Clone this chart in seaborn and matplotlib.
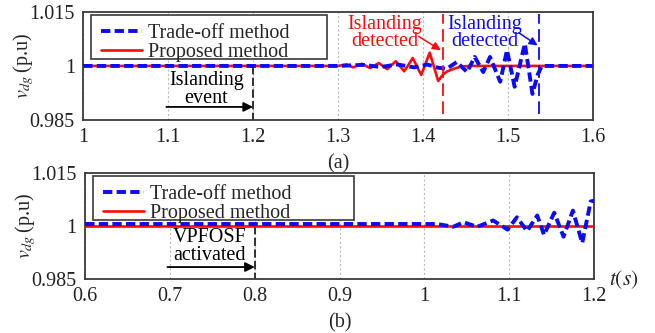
import numpy as np
import pandas as pd
import matplotlib
matplotlib.use("Agg")
import matplotlib.pyplot as plt
import seaborn as sns
from matplotlib.patches import Rectangle

# ---- (a) islanding test, t from 1.0 s to 1.6 s ----
t_prop_a = [1.000, 1.300, 1.310, 1.318, 1.328, 1.338, 1.348, 1.358, 1.368, 1.378,
            1.388, 1.398, 1.408, 1.418, 1.4235, 1.428, 1.436, 1.445, 1.455, 1.600]
v_prop_a = [1.0000, 1.0000, 1.0004, 0.9996, 1.0006, 0.9994, 1.0008, 0.9991, 1.0013, 0.9985,
            1.0022, 0.9975, 1.0037, 0.9958, 0.9976, 0.9984, 0.9992, 0.9998, 1.0000, 1.0000]

t_trade_a = [1.000, 1.300, 1.330, 1.350, 1.370, 1.390, 1.405, 1.418, 1.428, 1.440, 1.452,
             1.461, 1.471, 1.479, 1.491, 1.499, 1.508, 1.520, 1.529, 1.535, 1.540, 1.600]
v_trade_a = [1.0000, 1.0000, 1.0003, 0.9997, 1.0004, 0.9996, 1.0004, 0.9995, 0.9992, 1.0011, 0.9983,
             1.0025, 0.9983, 1.0025, 0.9956, 1.0044, 0.9942, 1.0062, 0.9922, 0.9975, 1.0000, 1.0000]

# ---- (b) VPFOSF activation test, t from 0.6 s to 1.2 s ----
t_prop_b = [0.600, 1.200]
v_prop_b = [1.0000, 1.0000]

t_trade_b = [0.600, 1.000, 1.015, 1.034, 1.046, 1.062, 1.081, 1.098, 1.109, 1.121,
             1.133, 1.141, 1.153, 1.164, 1.175, 1.186, 1.196, 1.200]
v_trade_b = [1.0006, 1.0006, 1.0006, 0.9998, 1.0011, 0.9998, 1.0016, 0.9990, 1.0025, 0.9986,
             1.0030, 0.9975, 1.0038, 0.9970, 1.0044, 0.9952, 1.0070, 1.0072]

xticks_a = [1.0, 1.1, 1.2, 1.3, 1.4, 1.5, 1.6]
xticklabels_a = ["1", "1.1", "1.2", "1.3", "1.4", "1.5", "1.6"]
xticks_b = [0.6, 0.7, 0.8, 0.9, 1.0, 1.1, 1.2]
xticklabels_b = ["0.6", "0.7", "0.8", "0.9", "1", "1.1", "1.2"]
yticks = [0.985, 1.0, 1.015]
yticklabels = ["0.985", "1", "1.015"]

islanding_time = 1.2
detect_time_proposed = 1.4235
detect_time_tradeoff = 1.5365
vpfosf_time = 0.8

BLUE = "#0a0aff"
RED = "#ff0a0a"
FRAME = "#3a3a3a"

sns.set_theme(style="white")
plt.rcParams["font.family"] = ["Liberation Serif", "DejaVu Serif"]
plt.rcParams["mathtext.fontset"] = "stix"
FS = 14.5

fig = plt.figure(figsize=(6.55, 3.33), dpi=100)
ax1 = fig.add_axes([0.127, 0.640, 0.778, 0.324])
ax2 = fig.add_axes([0.130, 0.162, 0.777, 0.318])


def draw_series(ax, t_trade, v_trade, t_prop, v_prop):
    df_t = pd.DataFrame({"t": t_trade, "v": v_trade})
    df_p = pd.DataFrame({"t": t_prop, "v": v_prop})
    sns.lineplot(data=df_p, x="t", y="v", ax=ax, color=RED, linewidth=1.9,
                 estimator=None, label="Proposed method", zorder=3)
    sns.lineplot(data=df_t, x="t", y="v", ax=ax, color=BLUE, linewidth=2.8,
                 estimator=None, label="Trade-off method", zorder=4)
    ax.lines[-1].set_dashes((2.4, 1.1))


def style_axes(ax, xlim, xticks, xticklabels):
    ax.set_xlim(*xlim)
    ax.set_ylim(0.985, 1.015)
    ax.set_xticks(xticks)
    ax.set_xticklabels(xticklabels, fontsize=FS, color="#222222")
    ax.set_yticks(yticks)
    ax.set_yticklabels(yticklabels, fontsize=FS, color="#222222")
    ax.tick_params(length=0, pad=6)
    ax.grid(axis="x", color="#bbbbbb", linestyle=(0, (2, 2)), linewidth=0.8)
    ax.grid(axis="y", visible=False)
    for s in ax.spines.values():
        s.set_color(FRAME)
        s.set_linewidth(1.3)
    ax.set_ylabel(r"$v_{dg}\,$(p.u)", fontsize=FS, va="center")
    ax.yaxis.set_label_coords(-0.117, 0.5)


def legend_box(ax, width):
    leg = ax.legend(handles=[ax.lines[-1], ax.lines[0]],
                    labels=["Trade-off method", "Proposed method"],
                    loc="upper left", bbox_to_anchor=(0.008, 1.02), frameon=False,
                    fontsize=FS, handlelength=2.0, handletextpad=0.3,
                    labelspacing=0.0, borderaxespad=0.3)
    ax.add_patch(Rectangle((0.016, 0.56), width, 0.41, transform=ax.transAxes,
                           fill=True, facecolor="white", edgecolor=FRAME,
                           linewidth=1.2, zorder=5))
    leg.set_zorder(6)


# ---- panel (a) ----
draw_series(ax1, t_trade_a, v_trade_a, t_prop_a, v_prop_a)
style_axes(ax1, (1.0, 1.6), xticks_a, xticklabels_a)
legend_box(ax1, 0.463)
ax1.set_xlabel("(a)", fontsize=FS, labelpad=5)

ax1.plot([islanding_time, islanding_time], [1.0, 0.985], color="#111111",
         linewidth=1.2, linestyle=(0, (5, 2)), zorder=2)
ax1.plot([detect_time_proposed] * 2, [0.9865, 1.0145], color=RED,
         linewidth=1.3, linestyle=(0, (7, 3)), zorder=5)
ax1.plot([detect_time_tradeoff] * 2, [0.9865, 1.0145], color=BLUE,
         linewidth=1.3, linestyle=(0, (7, 3)), zorder=5)

ax1.text(1.145, 0.9935, "Islanding\nevent", ha="center", va="center",
         fontsize=FS, linespacing=0.9, color="black")
ax1.annotate("", xy=(islanding_time, 0.9886), xytext=(1.098, 0.9886),
             arrowprops=dict(arrowstyle="-|>", color="black", lw=1.3,
                             mutation_scale=14, shrinkA=0, shrinkB=0))

ax1.text(1.355, 1.0092, "Islanding\ndetected", ha="center", va="center",
         fontsize=FS, linespacing=0.9, color=RED)
ax1.annotate("", xy=(1.421, 1.0044), xytext=(1.395, 1.0082),
             arrowprops=dict(arrowstyle="-|>", color=RED, lw=1.1,
                             mutation_scale=12, shrinkA=0, shrinkB=0))

ax1.text(1.473, 1.0092, "Islanding\ndetected", ha="center", va="center",
         fontsize=FS, linespacing=0.9, color=BLUE)
ax1.annotate("", xy=(1.535, 1.0057), xytext=(1.513, 1.0092),
             arrowprops=dict(arrowstyle="-|>", color=BLUE, lw=1.1,
                             mutation_scale=12, shrinkA=0, shrinkB=0))

# ---- panel (b) ----
draw_series(ax2, t_trade_b, v_trade_b, t_prop_b, v_prop_b)
style_axes(ax2, (0.6, 1.2), xticks_b, xticklabels_b)
legend_box(ax2, 0.513)
ax2.set_xlabel("(b)", fontsize=FS, labelpad=5)

ax2.plot([vpfosf_time, vpfosf_time], [1.0, 0.985], color="#111111",
         linewidth=1.2, linestyle=(0, (5, 2)), zorder=2)
ax2.text(0.747, 0.9942, "VPFOSF\nactivated", ha="center", va="center",
         fontsize=FS, linespacing=0.9, color="black")
ax2.annotate("", xy=(vpfosf_time, 0.9884), xytext=(0.697, 0.9884),
             arrowprops=dict(arrowstyle="-|>", color="black", lw=1.3,
                             mutation_scale=14, shrinkA=0, shrinkB=0))

fig.text(0.953, 0.16, r"$t(s)$", fontsize=FS + 1, ha="center", va="center")

fig.savefig("out.png", dpi=100)
